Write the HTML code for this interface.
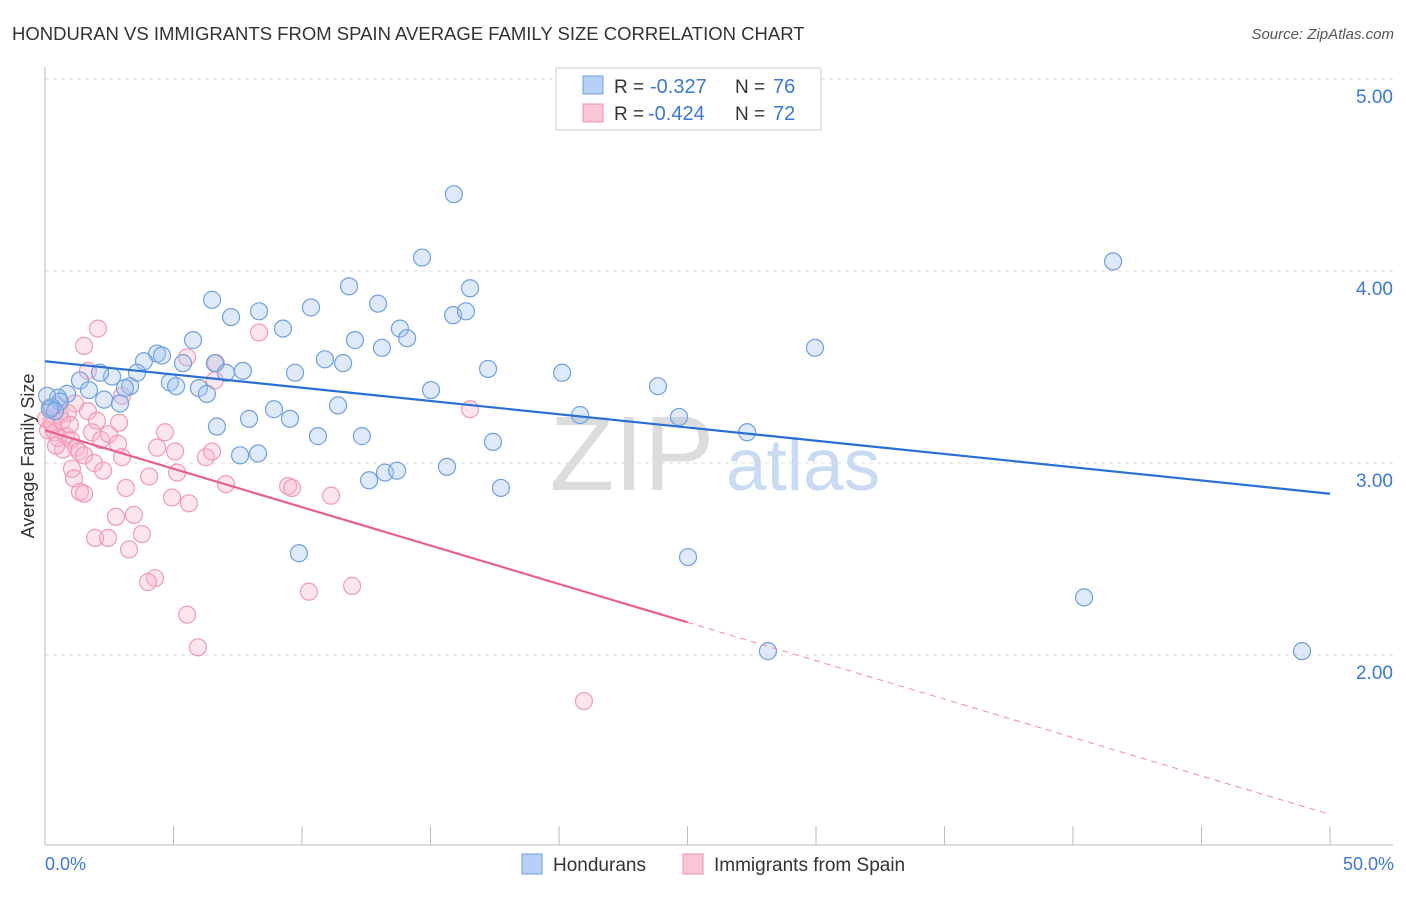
<!DOCTYPE html>
<html><head><meta charset="utf-8"><style>
body{margin:0;background:#fff;font-family:"Liberation Sans",sans-serif;}
svg text{font-family:"Liberation Sans",sans-serif;}
</style></head><body>
<svg id="chart" width="1406" height="892">
<text x="12" y="40" font-size="18.5" fill="#333">HONDURAN VS IMMIGRANTS FROM SPAIN AVERAGE FAMILY SIZE CORRELATION CHART</text>
<text x="1394" y="39" font-size="15" fill="#555" text-anchor="end" font-style="italic">Source: ZipAtlas.com</text>
<g>
<text x="632" y="490" font-size="106" fill="#dcdcdc" font-family="Liberation Serif" text-anchor="middle">ZIP</text>
<text x="803" y="490" font-size="73" fill="#c8dbf2" text-anchor="middle">atlas</text>
</g>
<g id="grid"></g>
<g id="axes"></g>
<g id="marks"></g>
<text transform="translate(34,456) rotate(-90)" font-size="18" fill="#333" text-anchor="middle">Average Family Size</text>
<text x="45" y="870" font-size="18" fill="#3b78d8">0.0%</text>
<text x="1394" y="870" font-size="18" fill="#3b78d8" text-anchor="end">50.0%</text>
<g>
<rect x="556" y="68" width="265" height="62" fill="#fff" stroke="#ccc"/>
<rect x="583" y="76" width="20" height="18" fill="#b6d1f5" stroke="#6fa0e0"/>
<rect x="583" y="104" width="20" height="18" fill="#f9c6d5" stroke="#f090b0"/>
<text x="614" y="93" font-size="19" fill="#333">R =</text>
<text x="650" y="93" font-size="20" fill="#3b78d8">-0.327</text>
<text x="735" y="93" font-size="19" fill="#333">N =</text>
<text x="773" y="93" font-size="20" fill="#3b78d8">76</text>
<text x="614" y="120" font-size="19" fill="#333">R =</text>
<text x="648" y="120" font-size="20" fill="#3b78d8">-0.424</text>
<text x="735" y="120" font-size="19" fill="#333">N =</text>
<text x="773" y="120" font-size="20" fill="#3b78d8">72</text>
</g>
<g>
<rect x="522" y="854" width="20" height="20" fill="#b6d1f5" stroke="#6fa0e0"/>
<text x="553" y="871" font-size="19" fill="#333">Hondurans</text>
<rect x="683" y="854" width="20" height="20" fill="#f9c6d5" stroke="#f090b0"/>
<text x="714" y="871" font-size="19" fill="#333">Immigrants from Spain</text>
</g>
</svg>
<script>
const blueX=[15.91,14.67,41.56,6.50,11.83,16.54,10.35,12.96,8.33,7.24,15.88,16.38,9.26,13.81,14.09,12.06,13.11,29.96,5.76,4.36,4.55,3.85,5.37,6.61,10.89,11.60,17.24,20.12,7.70,7.04,9.73,2.61,2.14,3.58,1.36,3.31,3.11,4.86,5.10,5.99,6.30,15.02,23.85,0.86,1.71,2.30,2.92,0.51,0.58,0.27,0.39,11.40,8.91,7.94,9.53,20.82,24.67,6.69,10.62,12.33,27.32,17.43,7.59,8.29,15.64,13.23,13.70,12.61,17.74,9.88,25.02,40.43,28.13,48.91,0.19,0.08];
const blueY=[4.40,4.07,4.05,3.85,3.92,3.91,3.81,3.83,3.79,3.76,3.77,3.79,3.70,3.70,3.65,3.64,3.60,3.60,3.64,3.57,3.56,3.53,3.52,3.52,3.54,3.52,3.49,3.47,3.48,3.47,3.47,3.45,3.47,3.47,3.43,3.40,3.39,3.42,3.40,3.39,3.36,3.38,3.40,3.36,3.38,3.33,3.31,3.34,3.32,3.29,3.27,3.30,3.28,3.23,3.23,3.25,3.24,3.19,3.14,3.14,3.16,3.11,3.04,3.05,2.98,2.95,2.96,2.91,2.87,2.53,2.51,2.30,2.02,2.02,3.28,3.35];
const pinkX=[2.06,1.52,8.33,5.53,6.65,1.67,6.61,16.54,3.00,1.17,0.89,1.67,2.02,0.58,0.23,0.12,0.39,0.51,0.82,1.01,1.21,1.83,2.18,2.49,2.84,0.70,1.32,1.52,0.43,4.36,4.67,3.00,5.06,6.26,6.50,1.91,1.05,2.26,5.14,4.05,1.13,7.04,9.46,9.61,11.13,3.15,4.94,5.60,1.36,1.52,2.76,3.46,3.77,1.95,2.45,3.27,4.28,4.01,11.95,10.27,5.53,5.95,20.97,2.88,0.04,0.31,0.66,0.97,0.19,0.47];
const pinkY=[3.70,3.61,3.68,3.55,3.52,3.48,3.43,3.28,3.35,3.31,3.26,3.27,3.22,3.25,3.21,3.17,3.16,3.13,3.14,3.12,3.08,3.16,3.12,3.15,3.10,3.07,3.06,3.04,3.09,3.08,3.16,3.03,3.06,3.03,3.06,3.00,2.97,2.96,2.95,2.93,2.92,2.89,2.88,2.87,2.83,2.87,2.82,2.79,2.85,2.84,2.72,2.73,2.63,2.61,2.61,2.55,2.40,2.38,2.36,2.33,2.21,2.04,1.76,3.21,3.23,3.20,3.22,3.20,3.29,3.30];
const yTicks=[5,4,3,2];
const yTickLabels=["5.00","4.00","3.00","2.00"];
const xTicks=[0,5,10,15,20,25,30,35,40,45,50];
const blueTrend=[3.53,2.84];
const pinkTrend=[3.17,1.17];
const pinkSolidEnd=25;

const NS="http://www.w3.org/2000/svg";
const sx=v=>45+v*25.7;
const sy=v=>79+(5-v)*192;
function mk(tag,attrs,parent){const e=document.createElementNS(NS,tag);for(const k in attrs)e.setAttribute(k,attrs[k]);parent.appendChild(e);return e;}
const grid=document.getElementById('grid'),axes=document.getElementById('axes'),marks=document.getElementById('marks');
yTicks.forEach((t,i)=>{
  const l=mk('line',{x1:45,x2:1393,y1:sy(t),y2:sy(t),stroke:'#ddd','stroke-dasharray':'4,4'},grid);
  
  
  const tx=mk('text',{x:1393,y:sy(t)+24,'font-size':19,fill:'#3b78d8','text-anchor':'end'},axes);
  tx.textContent=yTickLabels[i];
  
  
});
let a=mk('line',{x1:45,x2:45,y1:67,y2:845,stroke:'#bbb'},axes);


a=mk('line',{x1:45,x2:1393,y1:845,y2:845,stroke:'#bbb'},axes);


xTicks.forEach(t=>{
  const l=mk('line',{x1:sx(t),x2:sx(t),y1:826,y2:845,stroke:'#bbb'},axes);
  
  
});
function pts(X,Y,fill,stroke,name){
  X.forEach((x,i)=>{
    const c=mk('circle',{cx:sx(x),cy:sy(Y[i]),r:8.5,fill:fill,stroke:stroke,'stroke-width':1.2},marks);
    
    
  });
}
pts(pinkX,pinkY,'rgba(248,180,200,0.35)','#f09ab6','spain-point');
pts(blueX,blueY,'rgba(160,196,240,0.35)','#6fa0e0','honduran-point');
const ty=(tr,x)=>tr[0]+(tr[1]-tr[0])*x/50;
let t=mk('line',{x1:sx(0),y1:sy(ty(blueTrend,0)),x2:sx(50),y2:sy(ty(blueTrend,50)),stroke:'#2a6fd6','stroke-width':2.2},marks);


t=mk('line',{x1:sx(0),y1:sy(ty(pinkTrend,0)),x2:sx(pinkSolidEnd),y2:sy(ty(pinkTrend,pinkSolidEnd)),stroke:'#e8608e','stroke-width':2.2},marks);


t=mk('line',{x1:sx(pinkSolidEnd),y1:sy(ty(pinkTrend,pinkSolidEnd)),x2:sx(50),y2:sy(ty(pinkTrend,50)),stroke:'#f08aaa','stroke-width':1,'stroke-dasharray':'6,5'},marks);


</script>
</body></html>
